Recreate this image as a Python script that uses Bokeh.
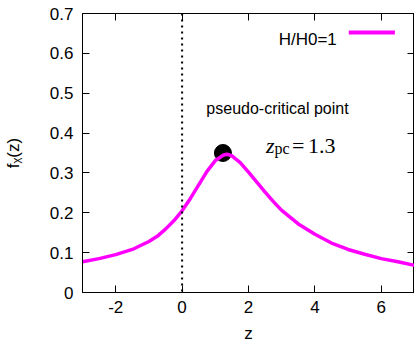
from bokeh.plotting import figure
from bokeh.models import Label, Span, LinearAxis, CustomJSTickFormatter, FixedTicker
from bokeh.embed import file_html
from bokeh.resources import INLINE

# ---- data ----
z_vals = [-3.0, -2.5, -2.0, -1.5, -1.0, -0.75, -0.5, -0.25, 0.0, 0.25, 0.5, 0.75, 1.0, 1.25, 1.35,
          1.5, 1.75, 2.0, 2.25, 2.5, 2.75, 3.0, 3.5, 4.0, 4.5, 5.0, 5.5, 6.0, 6.5, 7.0]
f_vals = [0.077, 0.085, 0.095, 0.108, 0.128, 0.141, 0.159, 0.180, 0.205, 0.236, 0.270, 0.304, 0.331, 0.345, 0.347,
          0.343, 0.326, 0.302, 0.277, 0.252, 0.228, 0.206, 0.172, 0.146, 0.124, 0.108, 0.096, 0.085, 0.077, 0.068]
pc_z = [1.23]
pc_f = [0.35]
vline_z = 0.0
x_ticks = [-2, 0, 2, 4, 6]
x_tick_labels = {-2: "-2", 0: "0", 2: "2", 4: "4", 6: "6"}
y_ticks = [0, 0.1, 0.2, 0.3, 0.4, 0.5, 0.6, 0.7]
y_tick_labels = {0: "0", 0.1: "0.1", 0.2: "0.2", 0.3: "0.3", 0.4: "0.4", 0.5: "0.5", 0.6: "0.6", 0.7: "0.7"}
series_label = "H/H0=1"

FONT = "Liberation Sans"
SERIF = "Liberation Serif"
MAGENTA = "#ff00ff"

p = figure(width=414, height=345, x_range=(-3, 7), y_range=(0, 0.7),
           output_backend="svg", toolbar_location=None,
           min_border_left=81, min_border_right=0, min_border_top=13, min_border_bottom=51)
p.grid.visible = False
p.outline_line_color = "black"
p.outline_line_width = 1
p.background_fill_color = "white"
p.border_fill_color = "white"

def style_axis(ax, ticks):
    ax.ticker = FixedTicker(ticks=ticks)
    ax.major_tick_in = 7
    ax.major_tick_out = 0
    ax.minor_tick_line_color = None
    ax.axis_line_color = "black"
    ax.major_tick_line_color = "black"
    ax.major_label_text_font = FONT
    ax.major_label_text_font_size = "17px"
    ax.major_label_text_color = "black"
    ax.axis_label_text_font = FONT
    ax.axis_label_text_font_size = "17px"
    ax.axis_label_text_font_style = "normal"
    ax.axis_label_text_color = "black"

xa = p.xaxis[0]
ya = p.yaxis[0]
style_axis(xa, x_ticks)
style_axis(ya, y_ticks)
xa.axis_label = "z"
xa.major_label_standoff = 8
xa.axis_label_standoff = 8
xa.major_label_overrides = x_tick_labels
ya.axis_label = "f\u1d6a(z)"
ya.major_label_standoff = 9
ya.axis_label_standoff = 24
ya.major_label_overrides = y_tick_labels

top = LinearAxis(formatter=CustomJSTickFormatter(code="return ''"), major_label_standoff=0)
right = LinearAxis(formatter=CustomJSTickFormatter(code="return ''"), major_label_standoff=0)
style_axis(top, x_ticks)
style_axis(right, y_ticks)
top.major_label_text_font_size = "0px"
right.major_label_text_font_size = "0px"
p.add_layout(top, "above")
p.add_layout(right, "right")

# dotted vertical line
p.add_layout(Span(location=vline_z, dimension="height", line_color="black",
                  line_width=2, line_dash="2 4"))

# pseudo-critical point
p.scatter(pc_z, pc_f, size=17, color="black")
# curve
p.line(z_vals, f_vals, line_color=MAGENTA, line_width=3.5, line_join="round")

# annotations
p.add_layout(Label(x=0.73, y=0.462, text="pseudo-critical point", text_font=FONT,
                   text_font_size="16px", text_color="black", text_baseline="alphabetic"))
ZX, ZY = 2.53, 0.368
p.add_layout(Label(x=ZX, y=ZY, text="z", text_font=SERIF, text_font_style="italic",
                   text_font_size="22px", text_color="black", text_baseline="alphabetic"))
p.add_layout(Label(x=ZX, y=ZY, x_offset=8.5, y_offset=-2.5, text="pc", text_font=SERIF,
                   text_font_size="16px", text_color="black", text_baseline="alphabetic"))
p.add_layout(Label(x=ZX, y=ZY, x_offset=26, text="=", text_font=SERIF,
                   text_font_size="22px", text_color="black", text_baseline="alphabetic"))
p.add_layout(Label(x=ZX, y=ZY, x_offset=42, text="1.3", text_font=SERIF,
                   text_font_size="22px", text_color="black", text_baseline="alphabetic"))

# legend (text left of line, gnuplot style)
p.add_layout(Label(x=4.66, y=0.635, text=series_label, text_font=FONT,
                   text_font_size="17px", text_color="black", text_align="right",
                   text_baseline="alphabetic"))
p.segment(x0=[5.02], y0=[0.6525], x1=[6.41], y1=[0.6525], line_color=MAGENTA, line_width=4)

open("out.html", "w").write(file_html(p, INLINE))
